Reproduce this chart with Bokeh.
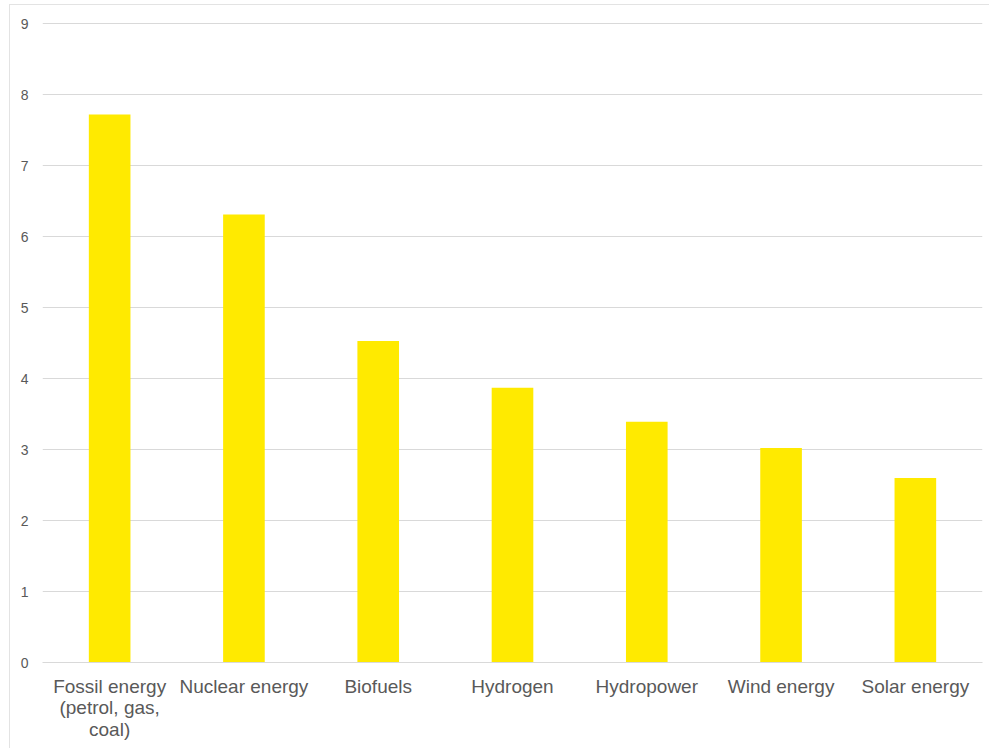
from bokeh.plotting import figure
from bokeh.models import FactorRange, Range1d, ColumnDataSource, FixedTicker
from bokeh.embed import file_html
from bokeh.resources import INLINE

# Energy sources (axis labels, wrapped as they are printed) and their scores
categories = ["Fossil energy\n(petrol, gas,\ncoal)", "Nuclear energy", "Biofuels",
              "Hydrogen", "Hydropower", "Wind energy", "Solar energy"]
scores = [7.72, 6.31, 4.53, 3.87, 3.39, 3.02, 2.60]
y_ticks = [0, 1, 2, 3, 4, 5, 6, 7, 8, 9]

TEXT = "#595959"
GRID = "#d9d9d9"
BAR = "#FFEA00"

source = ColumnDataSource(data=dict(cat=categories, score=scores))

p = figure(
    width=980, height=744,
    x_range=FactorRange(*categories, range_padding=0),
    y_range=Range1d(0, 9.015),
    output_backend="svg",
    toolbar_location=None,
    min_border_left=32, min_border_right=8,
    min_border_top=17, min_border_bottom=87,
    margin=(4, 0, 0, 9),
    styles={"border-top": "1px solid #e3e3e3", "border-left": "1px solid #e3e3e3"},
)

p.vbar(x="cat", top="score", width=0.31, source=source,
       fill_color=BAR, line_color=None)

p.outline_line_color = None
p.background_fill_color = "white"
p.border_fill_color = "white"

# Horizontal gridlines only
p.xgrid.grid_line_color = None
p.ygrid.grid_line_color = GRID
p.ygrid.grid_line_width = 1

# Y axis: plain labels, no line or ticks
p.yaxis.ticker = FixedTicker(ticks=y_ticks)
p.yaxis.axis_line_color = None
p.yaxis.major_tick_line_color = None
p.yaxis.minor_tick_line_color = None
p.yaxis.major_tick_out = 0
p.yaxis.major_tick_in = 0
p.yaxis.major_label_text_color = TEXT
p.yaxis.major_label_text_font = "Liberation Sans"
p.yaxis.major_label_text_font_size = "14px"
p.yaxis.major_label_standoff = 14

# X axis: category names, the baseline drawn as a light rule
p.xaxis.axis_line_color = GRID
p.xaxis.major_tick_line_color = None
p.xaxis.minor_tick_line_color = None
p.xaxis.major_tick_out = 0
p.xaxis.major_tick_in = 0
p.xaxis.major_label_text_color = TEXT
p.xaxis.major_label_text_font = "Liberation Sans"
p.xaxis.major_label_text_font_size = "19px"
p.xaxis.major_label_text_line_height = 1.03
p.xaxis.major_label_standoff = 13

open("out.html", "w").write(file_html(p, INLINE))
